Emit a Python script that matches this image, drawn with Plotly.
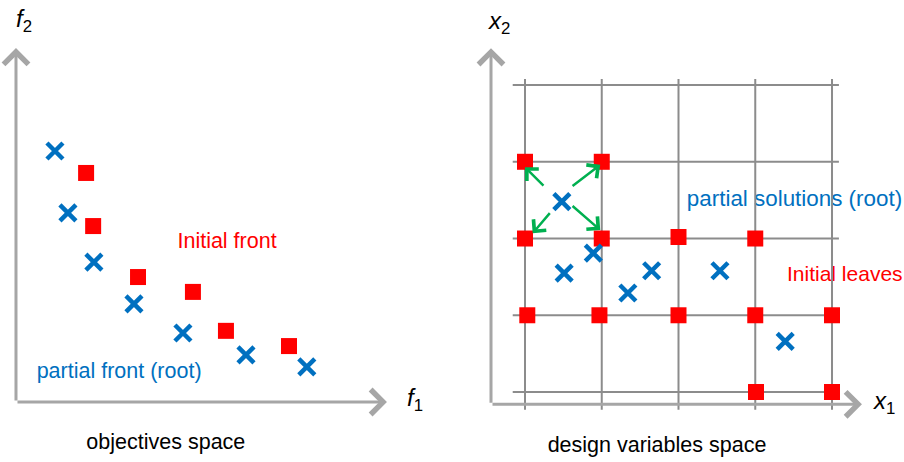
import plotly.graph_objects as go

# ---- left panel: objectives space ----
front_root_f1 = [1.05, 1.40, 2.10, 3.18, 4.50, 6.20, 7.84]
front_root_f2 = [7.09, 5.34, 3.95, 2.77, 1.95, 1.33, 0.99]
front_init_f1 = [1.89, 2.08, 3.29, 4.77, 5.66, 7.36]
front_init_f2 = [6.47, 4.97, 3.53, 3.11, 2.01, 1.58]

# ---- right panel: design variables space ----
grid_x1 = [1, 2, 3, 4, 5]
grid_x2 = [1, 2, 3, 4, 5]
leaves_x1 = [1, 2, 1, 2, 3, 4, 1.03, 1.97, 3, 4, 5, 4.01, 5]
leaves_x2 = [4, 4, 3, 3, 3.02, 3, 2, 2, 2, 2, 2, 1, 1]
root_x1 = [1.48, 1.89, 1.51, 2.34, 2.65, 3.54, 4.39]
root_x2 = [3.48, 2.81, 2.55, 2.29, 2.58, 2.58, 1.66]
# green arrows: (tail x1, tail x2, head x1, head x2)
branch_arrows = [
    (1.26, 3.67, 1.00, 3.93),
    (1.60, 3.67, 1.98, 3.96),
    (1.34, 3.35, 1.10, 3.07),
    (1.60, 3.44, 1.98, 3.11),
]

BLUE = '#0070c0'
RED = '#ff0000'
GREEN = '#00b050'
AXIS_GREY = '#a6a6a6'
GRID_GREY = '#8c8c8c'
FONT = 'Arial, Liberation Sans, sans-serif'

W, H = 904, 462

fig = go.Figure()

cross = dict(symbol='x-thin', size=16, line=dict(color=BLUE, width=4.5), color=BLUE)
square = dict(symbol='square', size=16, color=RED, line=dict(width=0))


def text_trace(x, y, text, xa, ya, color, size, pos='middle center'):
    fig.add_trace(go.Scatter(x=[x], y=[y], text=[text], mode='text', textposition=pos,
                             textfont=dict(family=FONT, size=size, color=color),
                             cliponaxis=False, hoverinfo='skip', xaxis=xa, yaxis=ya))


# texts of the right panel go first: the grid lines are drawn over them
text_trace(4.511, 3.50, 'partial solutions (root)', 'x2', 'y2', BLUE, 22.4)
text_trace(4.414, 2.52, 'Initial leaves', 'x2', 'y2', RED, 21, pos='middle right')
text_trace(2.72, 0.283, 'design variables space', 'x2', 'y2', 'black', 21.5)
text_trace(5.69, 4.49, 'Initial front', 'x', 'y', RED, 21.5)
text_trace(2.78, 0.82, 'partial front (root)', 'x', 'y', BLUE, 21.5)
text_trace(4.04, -1.19, 'objectives space', 'x', 'y', 'black', 21.5)

# grid lines of the right panel
gx, gy = [], []
for v in grid_x1:
    gx += [v, v, None]
    gy += [0.77, 5.08, None]
for v in grid_x2:
    gx += [0.84, 5.09, None]
    gy += [v, v, None]
fig.add_trace(go.Scatter(x=gx, y=gy, mode='lines', line=dict(color=GRID_GREY, width=2),
                         hoverinfo='skip', xaxis='x2', yaxis='y2'))

fig.add_trace(go.Scatter(x=front_init_f1, y=front_init_f2, mode='markers',
                         marker=square, xaxis='x', yaxis='y'))
fig.add_trace(go.Scatter(x=front_root_f1, y=front_root_f2, mode='markers',
                         marker=cross, xaxis='x', yaxis='y'))
fig.add_trace(go.Scatter(x=leaves_x1, y=leaves_x2, mode='markers',
                         marker=square, xaxis='x2', yaxis='y2'))
fig.add_trace(go.Scatter(x=root_x1, y=root_x2, mode='markers',
                         marker=cross, xaxis='x2', yaxis='y2'))


def arrow(x0, y0, x1, y1, xr, yr, color, width, size):
    fig.add_annotation(x=x1, y=y1, ax=x0, ay=y0, xref=xr, yref=yr, axref=xr, ayref=yr,
                       text='', showarrow=True, arrowhead=4, arrowsize=size,
                       arrowwidth=width, arrowcolor=color)


# axes drawn as arrows
arrow(0, 0, 10, 0, 'x', 'y', AXIS_GREY, 3, 1.6)
arrow(0, 0, 0, 10, 'x', 'y', AXIS_GREY, 3, 1.6)
arrow(0.557, 0.84, 5.39, 0.84, 'x2', 'y2', AXIS_GREY, 3, 1.6)
arrow(0.557, 0.84, 0.557, 5.48, 'x2', 'y2', AXIS_GREY, 3, 1.6)

for tx, ty, hx, hy in branch_arrows:
    arrow(tx, ty, hx, hy, 'x2', 'y2', GREEN, 2.5, 1.3)


def label(x, y, text, xr, yr, size=24):
    fig.add_annotation(x=x, y=y, xref=xr, yref=yr, text=text, showarrow=False,
                       xanchor='center', yanchor='middle',
                       font=dict(family=FONT, size=size, color='black'))


label(0.22, 10.79, '<i>f</i><sub>2</sub>', 'x', 'y')
label(10.75, 0.06, '<i>f</i><sub>1</sub>', 'x', 'y')
label(0.66, 5.82, '<i>x</i><sub>2</sub>', 'x2', 'y2')
label(5.68, 0.86, '<i>x</i><sub>1</sub>', 'x2', 'y2')

fig.update_layout(
    width=W, height=H,
    margin=dict(l=0, r=0, t=0, b=0),
    paper_bgcolor='white', plot_bgcolor='white',
    showlegend=False,
    xaxis=dict(domain=[0, 450 / W], range=[-0.431, 11.70], visible=False),
    yaxis=dict(domain=[0, 1], range=[-1.695, 11.356], visible=False),
    xaxis2=dict(domain=[450 / W, 1], range=[0.0228, 5.938], visible=False),
    yaxis2=dict(domain=[0, 1], range=[0.088, 6.108], visible=False, anchor='x2'),
)

# drop the browser's default body margin so the figure fills the window exactly
fig.write_html("out.html", config={'displayModeBar': False},
               post_script="document.body.style.margin='0';document.body.style.overflow='hidden';")
